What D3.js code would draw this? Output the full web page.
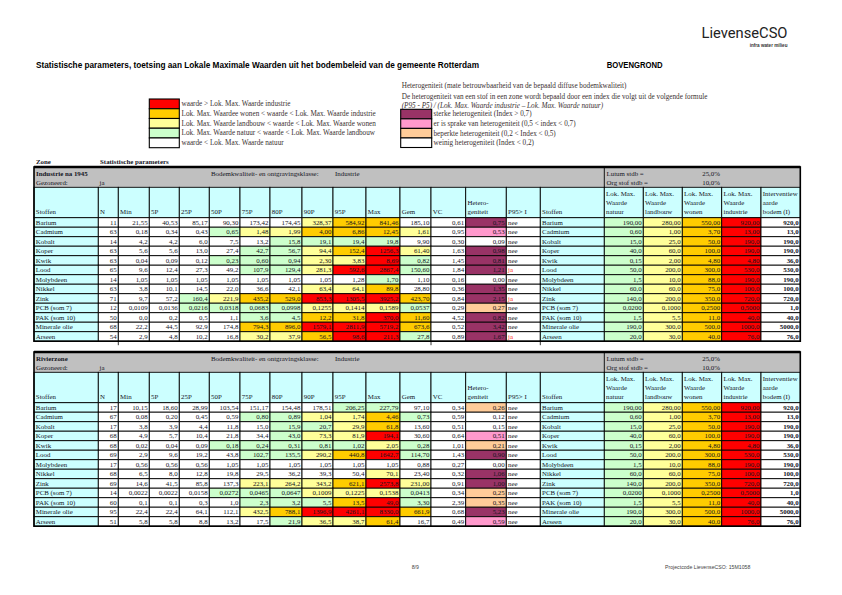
<!DOCTYPE html>
<html><head><meta charset="utf-8">
<script src="https://cdn.jsdelivr.net/npm/d3@7"></script>
<style>body{margin:0;background:#fff}svg{display:block}</style>
</head><body><svg id="c" width="842" height="595"></svg>
<script>
// ---------------- DATA ----------------
const substances = ["Barium","Cadmium","Kobalt","Koper","Kwik","Lood","Molybdeen","Nikkel","Zink","PCB (som 7)","PAK (som 10)","Minerale olie","Arseen"];
const statColumns = ["Min","5P","25P","50P","75P","80P","90P","95P","Max"];
const decimals    = [2,2,1,1,2,1,2,1,1,4,1,1,1];
const gemDecimals = [2,2,2,2,2,2,2,2,2,4,2,1,1];
const lmwDecimals = [2,2,1,1,2,1,1,1,1,4,1,1,1];

const lmwNatuur     = [190,0.60,15,40,0.15,50,1.5,60,140,0.02,1.5,190,20];
const lmwLandbouw   = [280,1.00,25,60,2.00,200,10,60,200,0.10,5.5,300,30];
const lmwWonen      = [550,3.70,50,100,4.80,300,88,75,350,0.25,11,500,40];
const lmwIndustrie  = [920,13.00,190,190,4.80,530,190,100,720,0.50,40,1000,76];
const interventie   = [920,13,190,190,36,530,190,100,720,1,40,5000,76];

// Table 1: Industrie na 1945
const t1Name = "Industrie na 1945";
const t1N    = [11,63,14,63,63,65,14,63,71,12,50,68,54];
const t1Min  = [21.55,0.18,4.2,5.6,0.04,9.6,1.05,3.8,9.7,0.0109,0.0,22.2,2.9];
const t1P5   = [40.53,0.34,4.2,5.6,0.09,12.4,1.05,10.1,57.2,0.0136,0.2,44.5,4.8];
const t1P25  = [85.17,0.43,6.0,13.0,0.12,27.3,1.05,14.5,160.4,0.0216,0.5,92.9,10.2];
const t1P50  = [90.30,0.65,7.5,27.4,0.23,49.2,1.05,22.0,221.9,0.0318,1.1,174.8,16.8];
const t1P75  = [173.42,1.48,13.2,42.7,0.60,107.9,1.05,36.6,435.2,0.0683,3.6,794.3,30.2];
const t1P80  = [174.45,1.99,15.8,56.7,0.94,129.4,1.05,42.1,529.0,0.0998,4.5,896.0,37.9];
const t1P90  = [328.37,4.00,19.1,94.4,2.30,281.3,1.05,63.4,853.3,0.1255,12.2,1579.1,56.5];
const t1P95  = [584.92,6.86,19.4,152.4,3.83,592.6,1.28,64.1,1305.5,0.1414,31.8,2811.9,98.6];
const t1Max  = [841.46,12.45,19.8,1256.3,8.69,2867.4,1.70,89.8,3925.2,0.1589,370.0,5719.2,211.3];
const t1Gem  = [185.10,1.61,9.90,61.40,0.82,150.60,1.10,28.80,423.70,0.0537,11.60,673.6,27.8];
const t1VC   = [0.61,0.95,0.30,1.63,1.45,1.84,0.16,0.36,0.84,0.29,4.52,0.52,0.89];
const t1Het  = [0.75,0.53,0.09,0.98,0.81,1.21,0.00,1.35,2.15,0.27,0.82,3.42,1.67];
const t1P95I = ["nee","nee","nee","nee","nee","ja","nee","nee","ja","nee","nee","nee","ja"];

// Table 2: Rivierzone
const t2Name = "Rivierzone";
const t2N    = [17,67,17,68,68,69,17,68,69,14,60,95,51];
const t2Min  = [10.15,0.08,3.8,4.9,0.02,2.9,0.56,6.5,14.6,0.0022,0.1,22.4,5.8];
const t2P5   = [18.60,0.20,3.9,5.7,0.04,9.6,0.56,8.0,41.5,0.0022,0.1,22.4,5.8];
const t2P25  = [28.99,0.45,4.4,10.4,0.09,19.2,0.56,12.8,85.8,0.0158,0.3,64.1,8.8];
const t2P50  = [103.54,0.59,11.8,21.8,0.18,43.8,1.05,19.8,137.3,0.0272,1.0,112.1,13.2];
const t2P75  = [151.17,0.80,15.0,34.4,0.24,102.7,1.05,29.5,223.1,0.0465,2.3,432.5,17.5];
const t2P80  = [154.48,0.89,15.9,43.0,0.31,135.5,1.05,36.2,264.2,0.0647,3.2,788.1,21.9];
const t2P90  = [178.51,1.04,20.7,73.3,0.81,290.2,1.05,39.3,343.2,0.1009,5.5,1396.9,36.5];
const t2P95  = [206.25,1.74,29.9,81.9,1.02,440.8,1.05,50.4,621.1,0.1225,13.5,4261.1,38.7];
const t2Max  = [227.79,4.46,61.8,194.1,2.05,1642.7,1.05,70.1,2573.8,0.1538,49.0,8330.0,61.4];
const t2Gem  = [97.10,0.73,13.60,30.60,0.28,114.70,0.88,23.40,231.00,0.0413,3.30,661.9,16.7];
const t2VC   = [0.34,0.59,0.51,0.64,1.01,1.43,0.27,0.32,0.91,0.34,2.39,0.68,0.49];
const t2Het  = [0.26,0.12,0.15,0.51,0.21,0.90,0.00,1.06,1.00,0.25,0.35,5.23,0.59];
const t2P95I = ["nee","nee","nee","nee","nee","nee","nee","nee","nee","nee","nee","nee","nee"];

const legendLevels = ["waarde > Lok. Max. Waarde industrie","Lok. Max. Waardee wonen < waarde < Lok. Max. Waarde industrie","Lok. Max. Waarde landbouw < waarde < Lok. Max. Waarde wonen","Lok. Max. Waarde natuur < waarde < Lok. Max. Waarde landbouw","waarde < Lok. Max. Waarde natuur"];
const legendHetero = ["sterke heterogeniteit (Index > 0,7)","er is sprake van heterogeniteit (0,5 < index < 0,7)","beperkte heterogeniteit (0,2 < Index < 0,5)","weinig heterogeniteit (Index < 0,2)"];

// ---------------- STYLE ----------------
const RED="#ff0000", ORANGE="#ffcc00", YELLOW="#ffff99", GREEN="#ccffcc", WHITE="#ffffff", CYAN="#ccffff", GRAY="#c0c0c0";
const PURPLE="#993366", PINK="#ff99cc", PEACH="#ffcc99";
const SERIF="'Liberation Serif','DejaVu Serif',serif";
const TXT="#15151f";
const FS=6.9, LFS=7.2;

function fmt(v,d){ return v.toFixed(d).replace(".",","); }
function levelColor(v,i){
  if(v>lmwIndustrie[i]) return RED;
  if(v>lmwWonen[i]) return ORANGE;
  if(v>lmwLandbouw[i]) return YELLOW;
  if(v>lmwNatuur[i]) return GREEN;
  return WHITE;
}
function heteroColor(v){
  if(v>0.7) return PURPLE;
  if(v>0.5) return PINK;
  if(v>0.2) return PEACH;
  return WHITE;
}

const svg = d3.select("#c");

// Column layout
const colKeys = ["Stoffen","N","Min","5P","25P","50P","75P","80P","90P","95P","Max","Gem","VC","Het","P95I","Stoffen2","nat","lan","won","ind","int"];
const colEdges = [34,98.3,118.3,149.3,179.3,209.3,240,270,302,333,366,400,431,465.7,506.3,540.3,604.3,643.3,682.3,721.7,761,800.3];
const xL = d3.scaleOrdinal().domain(colKeys).range(colEdges.slice(0,-1));
const xR = d3.scaleOrdinal().domain(colKeys).range(colEdges.slice(1));
const headerLabels = {
  Stoffen:["Stoffen"],N:["N"],Min:["Min"],"5P":["5P"],"25P":["25P"],"50P":["50P"],"75P":["75P"],"80P":["80P"],"90P":["90P"],"95P":["95P"],Max:["Max"],Gem:["Gem"],VC:["VC"],
  Het:["Hetero-","geniteit"],P95I:["P95> I"],Stoffen2:["Stoffen"],
  nat:["Lok. Max.","Waarde","natuur"],lan:["Lok. Max.","Waarde","landbouw"],won:["Lok. Max.","Waarde","wonen"],ind:["Lok. Max.","Waarde","industrie"],int:["Interventiew","aarde","bodem (I)"]
};

// ---------------- HEADER ----------------
svg.append("text").attr("x",701.5).attr("y",37.5).attr("font-family","Roboto,'DejaVu Sans',sans-serif").attr("font-size",15).attr("fill","#222")
  .attr("textLength",86).attr("lengthAdjust","spacingAndGlyphs").text("LievenseCSO");
svg.append("text").attr("x",787.5).attr("y",47).attr("text-anchor","end").attr("font-family","'Liberation Sans',sans-serif").attr("font-weight","bold").attr("font-size",4.6).attr("fill","#333").text("infra water milieu");
svg.append("text").attr("x",36).attr("y",67.5).attr("font-family","'Liberation Sans Narrow','Liberation Sans',sans-serif").attr("font-weight","bold").attr("font-size",9.5).attr("fill","#000")
  .attr("textLength",443).attr("lengthAdjust","spacingAndGlyphs").text("Statistische parameters, toetsing aan Lokale Maximale Waarden uit het bodembeleid van de gemeente Rotterdam");
svg.append("text").attr("x",606.7).attr("y",67.5).attr("font-family","'Liberation Sans Narrow','Liberation Sans',sans-serif").attr("font-weight","bold").attr("font-size",9.5).attr("fill","#000")
  .attr("textLength",56).attr("lengthAdjust","spacingAndGlyphs").text("BOVENGROND");

// Left legend
const levelColors=[RED,ORANGE,YELLOW,GREEN,WHITE];
const yLeg = d3.scaleBand().domain(d3.range(5)).range([99,147.7]);
const lg = svg.append("g");
lg.selectAll("rect").data(legendLevels).join("rect")
  .attr("x",149.3).attr("y",(d,i)=>yLeg(i)).attr("width",30).attr("height",yLeg.bandwidth())
  .attr("fill",(d,i)=>levelColors[i]).attr("stroke","#000").attr("stroke-width",1.1);
lg.selectAll("text").data(legendLevels).join("text")
  .attr("x",181.5).attr("y",(d,i)=>yLeg(i)+yLeg.bandwidth()/2+2.4)
  .attr("font-family",SERIF).attr("font-size",LFS).attr("fill","#3a3030").text(d=>d);

// Right legend
const rg = svg.append("g");
rg.append("text").attr("x",401.7).attr("y",88).attr("font-family",SERIF).attr("font-size",LFS).attr("fill","#3a3030").text("Heterogeniteit (mate betrouwbaarheid van de bepaald diffuse bodemkwaliteit)");
rg.append("text").attr("x",401.7).attr("y",99.2).attr("font-family",SERIF).attr("font-size",LFS).attr("fill","#3a3030").text("De heterogeniteit van een stof in een zone wordt bepaald door een index die volgt uit de volgende formule");
rg.append("text").attr("x",401.7).attr("y",107.6).attr("font-family",SERIF).attr("font-style","italic").attr("font-size",LFS).attr("fill","#3a3030").text("(P95 - P5) / (Lok. Max. Waarde industrie – Lok. Max. Waarde natuur)");
const hetColors=[PURPLE,PINK,PEACH,WHITE];
const yHet = d3.scaleBand().domain(d3.range(4)).range([109.3,147.5]);
rg.selectAll("rect").data(legendHetero).join("rect")
  .attr("x",400.7).attr("y",(d,i)=>yHet(i)).attr("width",31).attr("height",yHet.bandwidth())
  .attr("fill",(d,i)=>hetColors[i]).attr("stroke","#000").attr("stroke-width",1.1);
rg.selectAll("text.h").data(legendHetero).join("text").attr("class","h")
  .attr("x",433.5).attr("y",(d,i)=>yHet(i)+yHet.bandwidth()/2+2.4)
  .attr("font-family",SERIF).attr("font-size",LFS).attr("fill","#3a3030").text(d=>d);

// Zone label
svg.append("text").attr("x",36).attr("y",163.5).attr("font-family",SERIF).attr("font-weight","bold").attr("font-size",FS).attr("fill",TXT).text("Zone");
svg.append("text").attr("x",100).attr("y",163.5).attr("font-family",SERIF).attr("font-weight","bold").attr("font-size",FS).attr("fill",TXT).text("Statistische parameters");

// ---------------- TABLES ----------------
function drawTable(top, name, N, stats, gem, vc, het, p95i){
  const g = svg.append("g");
  const grayH = 20.3, headH = 30.4, rowH = 9.5;
  const headTop = top+grayH, rowTop = headTop+headH;
  const y = d3.scaleBand().domain(substances).range([rowTop,rowTop+rowH*substances.length]);
  const bottom = rowTop+rowH*substances.length;
  const left = colEdges[0], right = colEdges[colEdges.length-1];

  // gray block
  g.append("rect").attr("x",left).attr("y",top).attr("width",right-left).attr("height",grayH).attr("fill",GRAY);
  g.append("line").attr("x1",xL("nat")).attr("x2",xL("nat")).attr("y1",top).attr("y2",headTop).attr("stroke","#000").attr("stroke-width",0.9);
  const gt = (x,yy,t,bold)=>g.append("text").attr("x",x).attr("y",yy).attr("font-family",SERIF).attr("font-size",FS).attr("font-weight",bold?"bold":"normal").attr("fill",TXT).text(t);
  gt(36,top+8.6,name,true);
  gt(36,top+18,"Gezoneerd:");
  gt(99.5,top+18,"ja");
  gt(211,top+8.6,"Bodemkwaliteit- en ontgravingsklasse:");
  gt(335,top+8.6,"Industrie");
  gt(606.5,top+8.6,"Lutum stdb =");
  gt(606.5,top+18,"Org stof stdb =");
  gt(720,top+8.6,"25,0%").attr("text-anchor","end");
  gt(720,top+18,"10,0%").attr("text-anchor","end");

  // header cells
  const hg = g.append("g");
  hg.selectAll("rect").data(colKeys).join("rect")
    .attr("x",d=>xL(d)).attr("y",headTop).attr("width",d=>xR(d)-xL(d)).attr("height",headH)
    .attr("fill",CYAN).attr("stroke","#000").attr("stroke-width",0.9);
  colKeys.forEach(k=>{
    const lines = headerLabels[k];
    lines.forEach((t,j)=>{
      hg.append("text").attr("x",xL(k)+1.8).attr("y",headTop+headH-3.6-(lines.length-1-j)*9)
        .attr("font-family",SERIF).attr("font-size",FS).attr("fill",TXT).text(t);
    });
  });

  // data cells
  const cells = [];
  substances.forEach((s,i)=>{
    cells.push({k:"Stoffen",i,t:s,fill:CYAN,align:"start"});
    cells.push({k:"N",i,t:String(N[i]),fill:WHITE});
    statColumns.forEach((c,ci)=>{
      const v = stats[ci][i];
      cells.push({k:c,i,t:fmt(v,decimals[i]),fill:levelColor(v,i)});
    });
    cells.push({k:"Gem",i,t:fmt(gem[i],gemDecimals[i]),fill:levelColor(gem[i],i)});
    cells.push({k:"VC",i,t:fmt(vc[i],2),fill:WHITE});
    cells.push({k:"Het",i,t:fmt(het[i],2),fill:heteroColor(het[i])});
    cells.push({k:"P95I",i,t:p95i[i],fill:WHITE,align:"start",color:p95i[i]==="ja"?"#ff2a2a":TXT});
    cells.push({k:"Stoffen2",i,t:s,fill:CYAN,align:"start"});
    cells.push({k:"nat",i,t:fmt(lmwNatuur[i],lmwDecimals[i]),fill:GREEN});
    cells.push({k:"lan",i,t:fmt(lmwLandbouw[i],lmwDecimals[i]),fill:YELLOW});
    cells.push({k:"won",i,t:fmt(lmwWonen[i],lmwDecimals[i]),fill:ORANGE});
    cells.push({k:"ind",i,t:fmt(lmwIndustrie[i],lmwDecimals[i]),fill:RED});
    cells.push({k:"int",i,t:fmt(interventie[i],1),fill:WHITE,bold:true});
  });
  const cg = g.append("g");
  cg.selectAll("rect").data(cells).join("rect")
    .attr("x",d=>xL(d.k)).attr("y",d=>y(substances[d.i])).attr("width",d=>xR(d.k)-xL(d.k)).attr("height",rowH)
    .attr("fill",d=>d.fill).attr("stroke","#000").attr("stroke-width",0.9);
  cg.selectAll("text").data(cells).join("text")
    .attr("x",d=>d.align==="start"?xL(d.k)+1.8:xR(d.k)-1.6)
    .attr("y",d=>y(substances[d.i])+rowH/2+2.4)
    .attr("text-anchor",d=>d.align==="start"?"start":"end")
    .attr("font-family",SERIF).attr("font-size",FS)
    .attr("font-weight",d=>d.bold?"bold":"normal")
    .attr("fill",d=>d.color||TXT).text(d=>d.t);

  // outer border
  g.append("rect").attr("x",left).attr("y",top).attr("width",right-left).attr("height",bottom-top)
    .attr("fill","none").attr("stroke","#000").attr("stroke-width",1.6);
  g.append("line").attr("x1",left).attr("x2",right).attr("y1",top).attr("y2",top).attr("stroke","#000").attr("stroke-width",2.4);
  return bottom;
}

const b1 = drawTable(167, t1Name, t1N, [t1Min,t1P5,t1P25,t1P50,t1P75,t1P80,t1P90,t1P95,t1Max], t1Gem, t1VC, t1Het, t1P95I);
[118.3,431,540.3].forEach(x=>svg.append("line").attr("x1",x).attr("x2",x).attr("y1",b1).attr("y2",b1+4).attr("stroke","#000").attr("stroke-width",0.8));
drawTable(352, t2Name, t2N, [t2Min,t2P5,t2P25,t2P50,t2P75,t2P80,t2P90,t2P95,t2Max], t2Gem, t2VC, t2Het, t2P95I);

// Footer
svg.append("text").attr("x",411.7).attr("y",569).attr("font-family","'Liberation Sans',sans-serif").attr("font-size",5.2).attr("fill","#444").text("8/9");
svg.append("text").attr("x",665).attr("y",569).attr("font-family","'Liberation Sans',sans-serif").attr("font-size",5.2).attr("fill","#444").text("Projectcode LievenseCSO: 15M1058");
</script></body></html>
